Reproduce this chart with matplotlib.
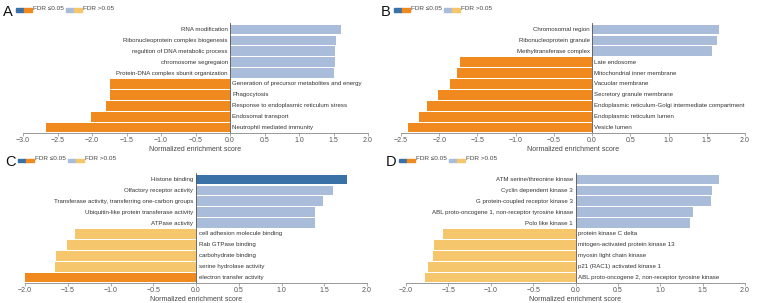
import numpy as np
import matplotlib.pyplot as plt
from matplotlib.patches import Rectangle

plt.rcParams['font.family'] = ['Liberation Sans', 'DejaVu Sans']

DARK_BLUE = '#3a72a8'
LIGHT_BLUE = '#a9bcd9'
ORANGE = '#f08a1f'
LIGHT_ORANGE = '#f6c66c'

# panel A
a_terms = ['RNA modification', 'Ribonucleoprotein complex biogenesis',
           'regultion of DNA metabolic process', 'chromosome segregaion',
           'Protein-DNA complex sbunit organization',
           'Generation of precursor metabolites and energy', 'Phagocytosis',
           'Response to endoplasmic reticulum stress', 'Endosomal transport',
           'Neutrophil mediated immunity']
a_nes = [1.61, 1.54, 1.52, 1.52, 1.50, -1.74, -1.74, -1.79, -2.02, -2.66]
a_sig = [0, 0, 0, 0, 0, 1, 1, 1, 1, 1]

# panel B
b_terms = ['Chromosomal region', 'Ribonucleoprotein granule',
           'Methyltransferase complex', 'Late endosome',
           'Mitochondrial inner membrane', 'Vacuolar membrane',
           'Secretory granule membrane',
           'Endoplasmic reticulum-Golgi intermediate compartment',
           'Endoplasmic reticulum lumen', 'Vesicle lumen']
b_nes = [1.66, 1.63, 1.57, -1.73, -1.77, -1.86, -2.02, -2.16, -2.27, -2.41]
b_sig = [0, 0, 0, 1, 1, 1, 1, 1, 1, 1]

# panel C
c_terms = ['Histone binding', 'Olfactory receptor activity',
           'Transferase activity, transferring one-carbon groups',
           'Ubiquitin-like protein transferase activity', 'ATPase activity',
           'cell adhesion molecule binding', 'Rab GTPase binding',
           'carbohydrate binding', 'serine hydrolase activity',
           'electron transfer activity']
c_nes = [1.77, 1.60, 1.49, 1.39, 1.39, -1.42, -1.51, -1.64, -1.65, -2.01]
c_sig = [1, 0, 0, 0, 0, 0, 0, 0, 0, 1]

# panel D
d_terms = ['ATM serine/threonine kinase', 'Cyclin dependent kinase 3',
           'G protein-coupled receptor kinase 3',
           'ABL proto-oncogene 1, non-receptor tyrosine kinase',
           'Polo like kinase 1', 'protein kinase C delta',
           'mitogen-activated protein kinase 13', 'myosin light chain kinase',
           'p21 (RAC1) activated kinase 1',
           'ABL proto-oncogene 2, non-receptor tyrosine kinase']
d_nes = [1.69, 1.61, 1.60, 1.39, 1.35, -1.56, -1.67, -1.68, -1.74, -1.78]
d_sig = [0, 0, 0, 0, 0, 0, 0, 0, 0, 0]

W, H = 757, 303
fig = plt.figure(figsize=(W / 100, H / 100), dpi=100)


def px_axes(x0, x1, y0, y1):
    return fig.add_axes([x0 / W, 1 - y1 / H, (x1 - x0) / W, (y1 - y0) / H])


def panel(letter, box, terms, nes, sig, xlim, ticks):
    ax = px_axes(*box)
    y = np.arange(len(terms))
    colors = []
    for v, s in zip(nes, sig):
        if v > 0:
            colors.append(DARK_BLUE if s else LIGHT_BLUE)
        else:
            colors.append(ORANGE if s else LIGHT_ORANGE)
    ax.barh(y, nes, height=0.9, color=colors, edgecolor='none')
    ax.set_ylim(len(terms) - 0.5, -0.6)
    ax.set_xlim(*xlim)
    ax.axvline(0, color='#555555', lw=0.6)
    for yi, v, t in zip(y, nes, terms):
        if v > 0:
            ax.text(-0.03, yi, t, ha='right', va='center', fontsize=4.4,
                    color='#333333')
        else:
            ax.text(0.03, yi, t, ha='left', va='center', fontsize=4.4,
                    color='#333333')
    for s in ['top', 'right', 'left']:
        ax.spines[s].set_visible(False)
    ax.spines['bottom'].set_color('#888888')
    ax.spines['bottom'].set_linewidth(0.6)
    ax.set_yticks([])
    ax.set_xticks(ticks)
    ax.set_xticklabels(['%.1f' % t if t >= 0 else '\u2212%.1f' % -t
                        for t in ticks])
    ax.tick_params(axis='x', labelsize=5, colors='#888888', length=2,
                   width=0.5, pad=1, labelcolor='#555555')
    ax.set_xlabel('Normalized enrichment score', fontsize=5,
                  color='#444444', labelpad=1)

    # panel letter and legend
    lx = box[0] - 20
    ly = box[2] - 11
    fig.text((lx) / W, 1 - ly / H, letter, fontsize=10.5, va='center',
             ha='left', color='#111111')
    sx = lx + 13
    for c, dx in [(DARK_BLUE, 0), (ORANGE, 8)]:
        fig.patches.append(Rectangle(((sx + dx) / W, 1 - (ly - 4 + 3.5) / H),
                                     8 / W, 3 / H, color=c,
                                     transform=fig.transFigure))
    fig.text((sx + 17) / W, 1 - (ly - 3) / H, 'FDR \u22640.05', fontsize=4.6,
             va='center', ha='left', color='#444444')
    sx2 = sx + 50
    for c, dx in [(LIGHT_BLUE, 0), (LIGHT_ORANGE, 8)]:
        fig.patches.append(Rectangle(((sx2 + dx) / W, 1 - (ly - 4 + 3.5) / H),
                                     8 / W, 3 / H, color=c,
                                     transform=fig.transFigure))
    fig.text((sx2 + 17) / W, 1 - (ly - 3) / H, 'FDR >0.05', fontsize=4.6,
             va='center', ha='left', color='#444444')
    return ax


panel('A', (23, 368, 23, 133), a_terms, a_nes, a_sig, (-3.0, 2.0),
      np.arange(-3.0, 2.01, 0.5))
panel('B', (401, 745, 23, 133), b_terms, b_nes, b_sig, (-2.5, 2.0),
      np.arange(-2.5, 2.01, 0.5))
panel('C', (25, 367, 173, 283), c_terms, c_nes, c_sig, (-2.0, 2.0),
      np.arange(-2.0, 2.01, 0.5))
panel('D', (406, 745, 173, 283), d_terms, d_nes, d_sig, (-2.0, 2.0),
      np.arange(-2.0, 2.01, 0.5))

fig.savefig('out.png', dpi=100)
